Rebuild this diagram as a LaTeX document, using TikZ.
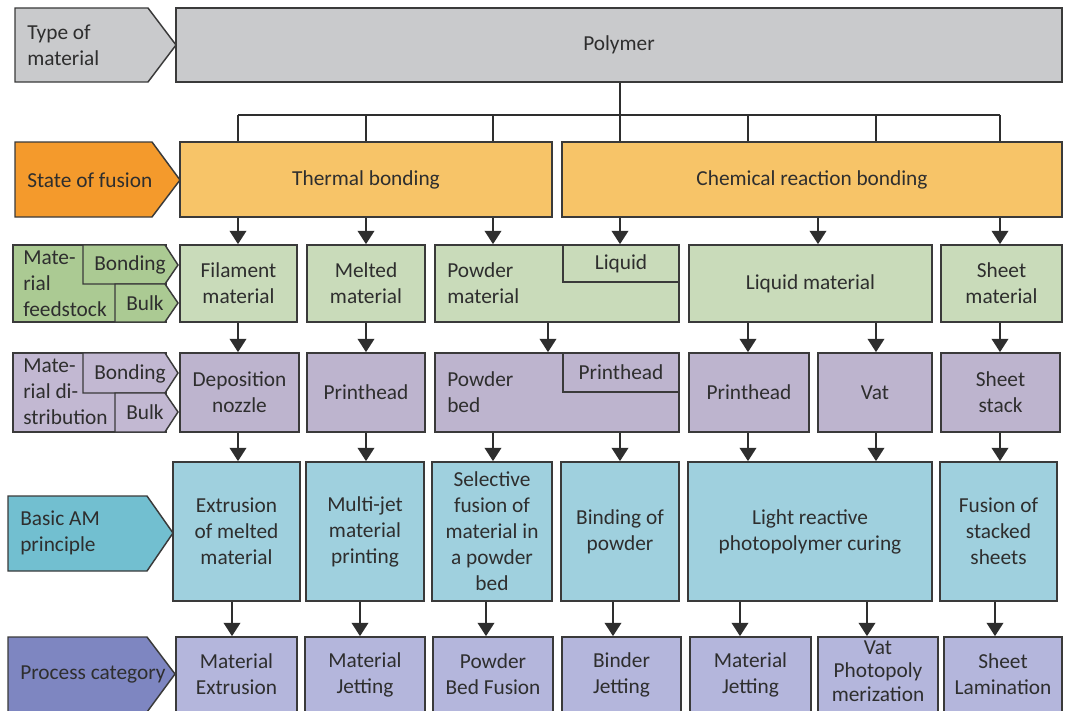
\documentclass[tikz,border=0pt]{standalone}
\usepackage{fontspec}
\setmainfont{Carlito}
\usetikzlibrary{arrows.meta}

\definecolor{edge}{HTML}{3A3A3A}
\definecolor{ink}{HTML}{2E2E2E}
\definecolor{grayF}{HTML}{C9CACC}
\definecolor{orangeL}{HTML}{F49A2C}
\definecolor{orangeF}{HTML}{F7C468}
\definecolor{greenL}{HTML}{ABCA93}
\definecolor{greenF}{HTML}{C9DBBA}
\definecolor{violetL}{HTML}{C2B8D2}
\definecolor{violetF}{HTML}{BDB4CE}
\definecolor{blueL}{HTML}{72BFD0}
\definecolor{blueF}{HTML}{9FD0DE}
\definecolor{procL}{HTML}{7E86C1}
\definecolor{procF}{HTML}{B4B6DC}

\tikzset{
  txt/.style={text=ink, font=\fontsize{16}{19.5}\selectfont},
  box/.style={txt, draw=edge, line width=1.3pt, inner sep=0pt, align=center},
  tag/.style={draw=edge, line width=1.1pt},
  lbl/.style={txt, anchor=west, align=left, inner sep=0pt},
  ln/.style={draw=edge!80!black, line width=1.3pt},
  arr/.style={ln, -{Triangle[width=12.5pt,length=10pt]}},
}
% box from corner (x1,y1) to corner (x2,y2), in pixels
\newcommand\bx[7]{%
  \node[box, fill=#2, minimum width={(#5-#3)*0.75pt}, minimum height={(#6-#4)*0.75pt}]
    (#1) at ({(#3+#5)/2},{(#4+#6)/2}) {#7};}

\begin{document}
\begin{tikzpicture}[x=0.75pt, y=-0.75pt]
  \useasboundingbox (0,0) rectangle (1066,710);
  \clip (0,0) rectangle (1066,710);

  % column positions of the connectors
  \coordinate (bus) at (0,115);
  \foreach \n/\x in {c1/238,c2/366,c3/493,c4/620,c5/748,c6/876,c7/1000,cp/548,cv/818,
                     d1/232,d2/360,d3/486,d4/613,d5/740,d6/867,d7/995}
    \coordinate (\n) at (\x,0);

  % row labels on the left
  \filldraw[tag, fill=grayF] (15,8) -- (148,8) -- (176,45) -- (148,82) -- (15,82) -- cycle;
  \node[lbl] (tType) at (27,45) {Type of\\material};

  \filldraw[tag, fill=orangeL] (15,142) -- (152,142) -- (180,180) -- (152,217) -- (15,217) -- cycle;
  \node[lbl] (tFus) at (27,180) {State of fusion};

  \filldraw[tag, fill=greenL] (13,245) rectangle (166,322);
  \filldraw[tag, fill=greenL] (83,245) -- (165,245) -- (178,265) -- (165,284) -- (83,284) -- cycle;
  \filldraw[tag, fill=greenL] (115,284) -- (165,284) -- (178,303) -- (165,322) -- (115,322) -- cycle;
  \node[lbl] (tFeed) at (23,284) {Mate-\\rial\\feedstock};
  \node[txt] (tFeedBond) at (130,265) {Bonding};
  \node[txt] (tFeedBulk) at (145,303) {Bulk};

  \filldraw[tag, fill=violetL] (13,353) rectangle (166,432);
  \filldraw[tag, fill=violetL] (83,353) -- (165,353) -- (178,373) -- (165,393) -- (83,393) -- cycle;
  \filldraw[tag, fill=violetL] (115,393) -- (165,393) -- (178,412) -- (165,432) -- (115,432) -- cycle;
  \node[lbl] (tDist) at (23,392) {Mate-\\rial di-\\stribution};
  \node[txt] (tDistBond) at (130,374) {Bonding};
  \node[txt] (tDistBulk) at (145,412) {Bulk};

  \filldraw[tag, fill=blueL] (8,496) -- (147,496) -- (173,533) -- (147,571) -- (8,571) -- cycle;
  \node[lbl] (tPrin) at (20,533) {Basic AM\\principle};

  \filldraw[tag, fill=procL] (8,637) -- (147,637) -- (175,674) -- (147,712) -- (8,712) -- cycle;
  \node[lbl] (tProc) at (20,674) {Process category};

  % type of material
  \bx{poly}{grayF}{176}{8}{1062}{82}{Polymer}

  % state of fusion
  \bx{therm}{orangeF}{180}{142}{552}{217}{Thermal bonding}
  \bx{chem}{orangeF}{562}{142}{1062}{217}{Chemical reaction bonding}

  % material feedstock
  \bx{fil}{greenF}{180}{245}{297}{322}{Filament\\material}
  \bx{melt}{greenF}{307}{245}{425}{322}{Melted\\material}
  \bx{pow}{greenF}{435}{245}{679}{322}{}
  \node[lbl] (powT) at (447,283.5) {Powder\\material};
  \bx{liq}{greenF}{563}{245}{679}{282}{Liquid}
  \bx{liqm}{greenF}{689}{245}{932}{322}{Liquid material}
  \bx{shm}{greenF}{941}{245}{1062}{322}{Sheet\\material}

  % material distribution
  \bx{dep}{violetF}{180}{353}{299}{432}{Deposition\\nozzle}
  \bx{ph1}{violetF}{307}{353}{425}{432}{Printhead}
  \bx{bed}{violetF}{435}{353}{679}{432}{}
  \node[lbl] (bedT) at (447,392.5) {Powder\\bed};
  \bx{ph2}{violetF}{563}{353}{679}{392}{Printhead}
  \bx{ph3}{violetF}{689}{353}{809}{432}{Printhead}
  \bx{vat}{violetF}{818}{353}{932}{432}{Vat}
  \bx{stk}{violetF}{941}{353}{1060}{432}{Sheet\\stack}

  % basic AM principle
  \bx{ext}{blueF}{173}{462}{300}{601}{Extrusion\\of melted\\material}
  \bx{mjp}{blueF}{306}{462}{424}{601}{Multi-jet\\material\\printing}
  \bx{sel}{blueF}{432}{462}{552}{601}{Selective\\fusion of\\material in\\a powder\\bed}
  \bx{bind}{blueF}{561}{462}{679}{601}{Binding of\\powder}
  \bx{light}{blueF}{688}{462}{932}{601}{Light reactive\\photopolymer curing}
  \bx{fus}{blueF}{940}{462}{1057}{601}{Fusion of\\stacked\\sheets}

  % process category
  \bx{mext}{procF}{176}{637}{297}{712}{Material\\Extrusion}
  \bx{mjet}{procF}{305}{637}{425}{712}{Material\\Jetting}
  \bx{pbf}{procF}{433}{637}{553}{712}{Powder\\Bed Fusion}
  \bx{bj}{procF}{562}{637}{681}{712}{Binder\\Jetting}
  \bx{mjet2}{procF}{690}{637}{811}{712}{Material\\Jetting}
  \bx{vp}{procF}{818}{637}{938}{712}{}
  \node[txt, align=center, font=\fontsize{16}{17.5}\selectfont] (vpT) at (878,671) {Vat\\Photopoly\\merization};
  \bx{sl}{procF}{944}{637}{1062}{712}{Sheet\\Lamination}

  % polymer splits into the bus
  \draw[ln] (poly.south -| c4) -- (bus -| c4);
  \draw[ln] (bus -| c1) -- (bus -| c7);
  \foreach \c in {c1,c2,c3} \draw[ln] (bus -| \c) -- (therm.north -| \c);
  \foreach \c in {c4,c5,c6,c7} \draw[ln] (bus -| \c) -- (chem.north -| \c);

  % fusion -> feedstock
  \draw[arr] (therm.south -| c1) -- (fil.north -| c1);
  \draw[arr] (therm.south -| c2) -- (melt.north -| c2);
  \draw[arr] (therm.south -| c3) -- (pow.north -| c3);
  \draw[arr] (chem.south -| c4) -- (liq.north -| c4);
  \draw[arr] (chem.south -| cv) -- (liqm.north -| cv);
  \draw[arr] (chem.south -| c7) -- (shm.north -| c7);

  % feedstock -> distribution
  \draw[arr] (fil.south -| c1) -- (dep.north -| c1);
  \draw[arr] (melt.south -| c2) -- (ph1.north -| c2);
  \draw[arr] (pow.south -| cp) -- (bed.north -| cp);
  \draw[arr] (liqm.south -| c5) -- (ph3.north -| c5);
  \draw[arr] (liqm.south -| c6) -- (vat.north -| c6);
  \draw[arr] (shm.south -| c7) -- (stk.north -| c7);

  % distribution -> principle
  \draw[arr] (dep.south -| c1) -- (ext.north -| c1);
  \draw[arr] (ph1.south -| c2) -- (mjp.north -| c2);
  \draw[arr] (bed.south -| c3) -- (sel.north -| c3);
  \draw[arr] (bed.south -| c4) -- (bind.north -| c4);
  \draw[arr] (ph3.south -| c5) -- (light.north -| c5);
  \draw[arr] (vat.south -| c6) -- (light.north -| c6);
  \draw[arr] (stk.south -| c7) -- (fus.north -| c7);

  % principle -> process category
  \draw[arr] (ext.south -| d1) -- (mext.north -| d1);
  \draw[arr] (mjp.south -| d2) -- (mjet.north -| d2);
  \draw[arr] (sel.south -| d3) -- (pbf.north -| d3);
  \draw[arr] (bind.south -| d4) -- (bj.north -| d4);
  \draw[arr] (light.south -| d5) -- (mjet2.north -| d5);
  \draw[arr] (light.south -| d6) -- (vp.north -| d6);
  \draw[arr] (fus.south -| d7) -- (sl.north -| d7);
\end{tikzpicture}
\end{document}
